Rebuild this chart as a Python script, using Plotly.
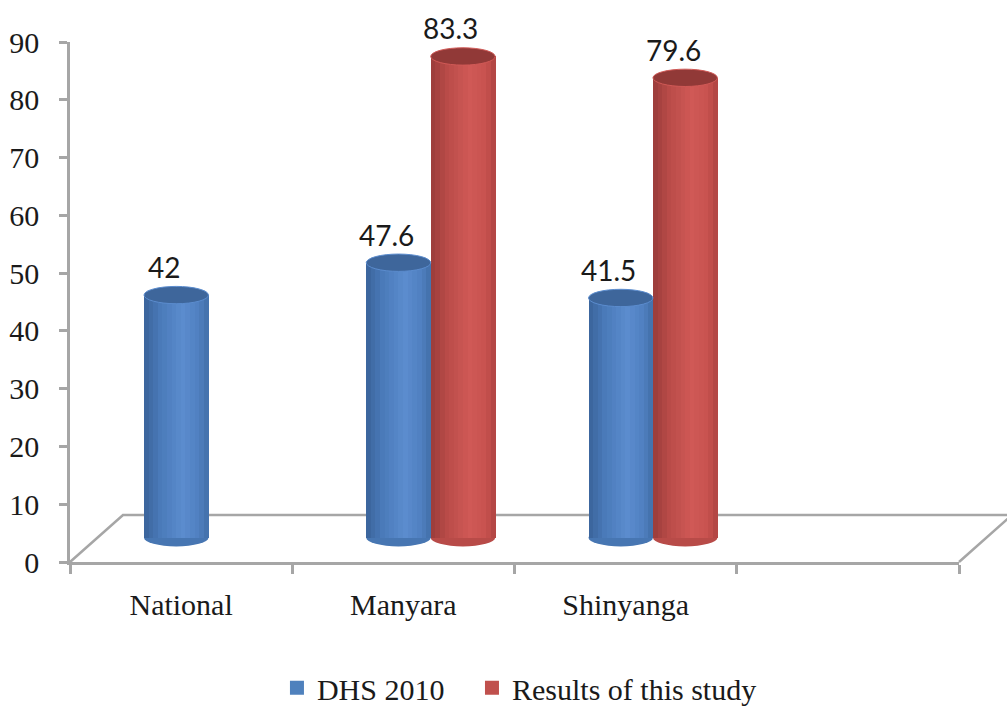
import plotly.graph_objects as go

# ---- data ----
categories = ["National", "Manyara", "Shinyanga"]
dhs_2010 = [42, 47.6, 41.5]
this_study = [None, 83.3, 79.6]
series_names = ["DHS 2010", "Results of this study"]
y_ticks = [0, 10, 20, 30, 40, 50, 60, 70, 80, 90]

# ---- style / geometry ----
DEPTH = 4.2          # vertical depth shift (axis units) imitating the 3-D floor
EH = 1.5             # half height of cylinder end ellipses (axis units)
W = 0.29             # bar width (category units)
centers = [-0.022, 0.268]  # bar centre offsets per series
base_cols = ["#4F81BD", "#C0504D"]
top_cols = ["#3E669B", "#913937"]
bot_cols = ["#4776B2", "#B84B48"]
grad_stops = [
    [(0, (58, 99, 153)), (0.25, (74, 122, 185)), (0.6, (91, 140, 206)), (0.85, (80, 128, 192)), (1, (66, 111, 168))],
    [(0, (154, 60, 58)), (0.25, (185, 75, 72)), (0.6, (208, 89, 86)), (0.85, (200, 82, 79)), (1, (174, 68, 66))],
]
N_STRIPS = 14
AXIS_COL = "#A6A6A6"
SERIF = "Liberation Serif"
LEGEND_PAD = ["\u00a0\u00a0\u00a0", ""]  # extra spacing after legend labels


def grad(stops, t):
    for (t0, c0), (t1, c1) in zip(stops[:-1], stops[1:]):
        if t0 <= t <= t1:
            f = (t - t0) / (t1 - t0)
            c = [round(a + (b - a) * f) for a, b in zip(c0, c1)]
            return "rgb(%d,%d,%d)" % tuple(c)
    return "rgb(%d,%d,%d)" % stops[-1][1]


xs = list(range(len(categories)))
fig = go.Figure()
shapes = []
annotations = []

# floor (3-D base) drawn in paper coordinates
fx = 53 / 889
fy = 47 / 520
shapes.append(dict(type="path", xref="paper", yref="paper", layer="below",
                   path=f"M 0 0 L {fx} {fy} L {1 + fx} {fy} L 1 0",
                   line=dict(color=AXIS_COL, width=2.5)))

for s, vals in enumerate([dhs_2010, this_study]):
    c = centers[s]
    left = c - W / 2
    # main bar
    fig.add_trace(go.Bar(x=xs, y=vals, base=DEPTH, width=W, offset=left,
                         name=series_names[s], marker=dict(color=base_cols[s], line=dict(width=0)),
                         showlegend=False, hoverinfo="y"))
    # shading strips
    sw = W / N_STRIPS
    for k in range(N_STRIPS):
        t = (k + 0.5) / N_STRIPS
        fig.add_trace(go.Bar(x=xs, y=vals, base=DEPTH, width=sw * 1.08, offset=left + k * sw,
                             marker=dict(color=grad(grad_stops[s], t), line=dict(width=0)),
                             showlegend=False, hoverinfo="skip"))
    # legend entry (square marker)
    fig.add_trace(go.Scatter(x=[None], y=[None], mode="markers",
                             name=series_names[s] + LEGEND_PAD[s],
                             marker=dict(symbol="square", size=14, color=base_cols[s]),
                             showlegend=True))
    for i, v in zip(xs, vals):
        if v is None:
            continue
        shapes.append(dict(type="circle", xref="x", yref="y", layer="below",
                           x0=i + left, x1=i + left + W, y0=DEPTH - EH, y1=DEPTH + EH,
                           fillcolor=bot_cols[s], line=dict(width=0)))
        shapes.append(dict(type="circle", xref="x", yref="y", layer="above",
                           x0=i + left, x1=i + left + W, y0=v + DEPTH - EH, y1=v + DEPTH + EH,
                           fillcolor=top_cols[s], line=dict(width=1, color=grad(grad_stops[s], 0.6))))
        annotations.append(dict(x=i + c, y=v + DEPTH, xref="x", yref="y", text=f"{v:g}",
                                showarrow=False, yanchor="bottom", yshift=9, xshift=-12,
                                font=dict(family="Lato", size=28, color="#1a1a1a")))

fig.update_layout(
    width=1007, height=707,
    margin=dict(l=70, r=48, t=42, b=145, autoexpand=False),
    paper_bgcolor="white", plot_bgcolor="white",
    barmode="overlay", bargap=0,
    showlegend=True,
    legend=dict(orientation="h", x=0.2328, xanchor="left", y=-0.242, yanchor="middle",
                font=dict(family=SERIF, size=30, color="#1a1a1a"),
                itemwidth=30, tracegroupgap=0, traceorder="normal"),
    shapes=shapes,
    annotations=annotations,
    font=dict(family=SERIF, size=30, color="#1a1a1a"),
)
fig.update_xaxes(range=[-0.5, 3.5], tickvals=xs, ticktext=categories, ticks="",
                 showline=True, linecolor=AXIS_COL, linewidth=2.5, showgrid=False, zeroline=False,
                 tickfont=dict(family=SERIF, size=30, color="#1a1a1a"),
                 ticklabelstandoff=14,
                 minor=dict(tickvals=[-0.5, 0.5, 1.5, 2.5, 3.5], ticks="outside", ticklen=9,
                            tickwidth=2.5, tickcolor=AXIS_COL, showgrid=False))
fig.update_yaxes(range=[0, 90], tickvals=y_ticks, ticks="outside", ticklen=8, tickwidth=2.5,
                 tickcolor=AXIS_COL, showline=True, linecolor=AXIS_COL, linewidth=2.5,
                 showgrid=False, zeroline=False, ticklabelstandoff=14,
                 tickfont=dict(family=SERIF, size=30, color="#1a1a1a"))

fig.write_html("out.html")
